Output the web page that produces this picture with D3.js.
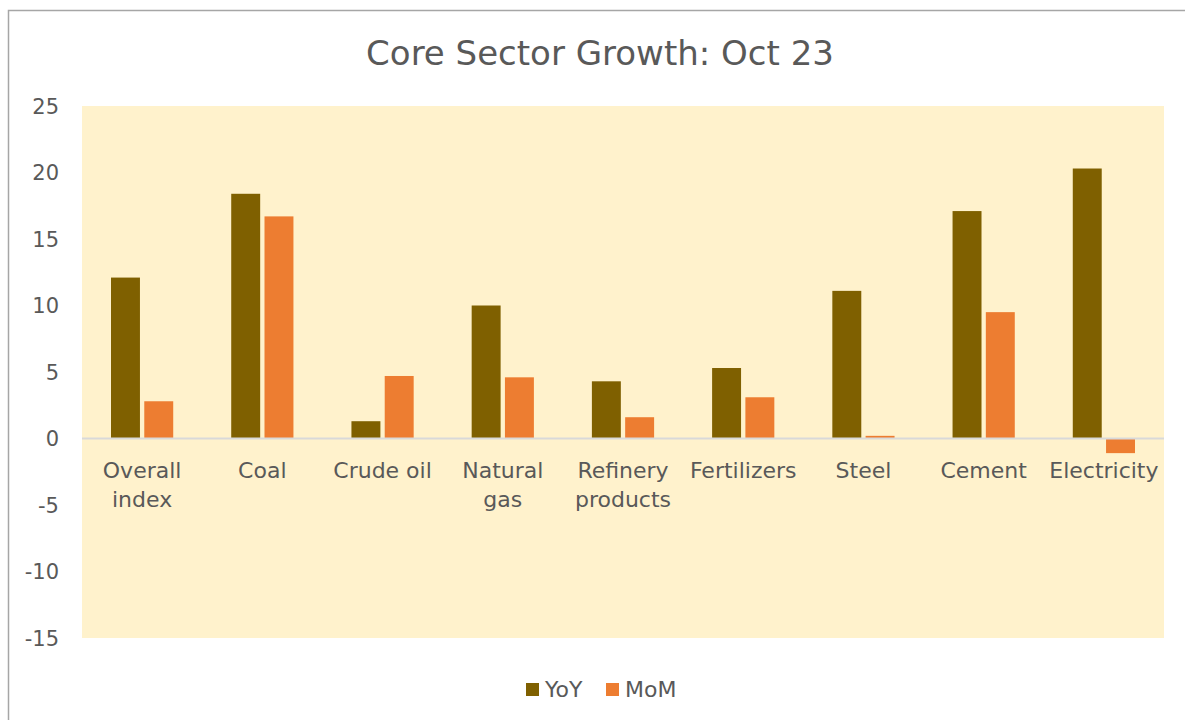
<!DOCTYPE html>
<html>
<head>
<meta charset="utf-8">
<script src="https://cdn.jsdelivr.net/npm/d3@7"></script>
<style>
  body { margin: 0; background: #fff; }
  svg text { font-family: "Century Gothic", "DejaVu Sans", sans-serif; fill: #595959; }
</style>
</head>
<body>
<div id="chart"></div>
<script>
// data
var categories = ["Overall index", "Coal", "Crude oil", "Natural gas", "Refinery products",
                  "Fertilizers", "Steel", "Cement", "Electricity"];
var yoy = [12.1, 18.4, 1.3, 10.0, 4.3, 5.3, 11.1, 17.1, 20.3];
var mom = [2.8, 16.7, 4.7, 4.6, 1.6, 3.1, 0.2, 9.5, -1.1];
var yTicks = [25, 20, 15, 10, 5, 0, -5, -10, -15];
var seriesNames = ["YoY", "MoM"];
var seriesColors = ["#7f6000", "#ed7d31"];

function barChart() {
    var w = 1185;
    var h = 720;
    var left = 82, right = 1164, top = 106, bottom = 638;

    var svg = d3.select("#chart")
                .append("svg")
                .attr("width", w)
                .attr("height", h);

    // outer chart border (runs past right/bottom edge)
    svg.append("rect")
        .attr("x", 8.5).attr("y", 10.5)
        .attr("width", 1200).attr("height", 720)
        .attr("fill", "#fff")
        .attr("stroke", "#a6a6a6")
        .attr("stroke-width", 1.5);

    // plot background
    svg.append("rect")
        .attr("x", left).attr("y", top)
        .attr("width", right - left).attr("height", bottom - top)
        .attr("fill", "#fff2cc");

    var xScale = d3.scaleBand()
                    .domain(categories)
                    .range([left, right]);

    var inner = d3.scaleBand()
                    .domain(seriesNames)
                    .range([29, xScale.bandwidth() - 29])
                    .paddingInner(0.13);

    var yScale = d3.scaleLinear()
                    .domain([-15, 25])
                    .range([bottom, top]);

    var yAxis = d3.axisLeft(yScale)
                    .tickValues(yTicks)
                    .tickFormat(function(d) { return String(d); }) // plain hyphen minus
                    .tickSize(0)
                    .tickPadding(0);

    var gy = svg.append("g")
        .attr("transform", "translate(" + 59 + ",0)")
        .call(yAxis);
    gy.select(".domain").remove();
    gy.selectAll("text").style("font-size", "21px").attr("dy", "0.35em");

    var series = [yoy, mom];
    series.forEach(function(vals, s) {
        svg.selectAll(".bar" + s)
            .data(vals)
            .enter()
            .append("rect")
            .attr("x", function(d, i) { return xScale(categories[i]) + inner(seriesNames[s]); })
            .attr("y", function(d) { return yScale(Math.max(0, d)); })
            .attr("width", inner.bandwidth())
            .attr("height", function(d) { return Math.abs(yScale(d) - yScale(0)); })
            .style("fill", seriesColors[s]);
    });

    // zero line
    svg.append("line")
        .attr("x1", left).attr("x2", right)
        .attr("y1", yScale(0)).attr("y2", yScale(0))
        .attr("stroke", "#d9d9d9")
        .attr("stroke-width", 2);

    // category labels (wrapped like the original)
    var labelLines = {
        "Overall index": ["Overall", "index"],
        "Natural gas": ["Natural", "gas"],
        "Refinery products": ["Refinery", "products"]
    };
    categories.forEach(function(c) {
        var lines = labelLines[c] || [c];
        var t = svg.append("text")
            .attr("x", xScale(c) + xScale.bandwidth() / 2)
            .attr("y", 478)
            .attr("text-anchor", "middle")
            .style("font-size", "22px");
        lines.forEach(function(l, k) {
            t.append("tspan")
                .attr("x", xScale(c) + xScale.bandwidth() / 2)
                .attr("dy", k === 0 ? 0 : 29)
                .text(l);
        });
    });

    // title
    svg.append("text")
        .attr("x", 600).attr("y", 65)
        .attr("text-anchor", "middle")
        .style("font-size", "34px")
        .text("Core Sector Growth: Oct 23");

    // legend
    var legendX = [526, 606];
    seriesNames.forEach(function(n, s) {
        svg.append("rect")
            .attr("x", legendX[s]).attr("y", 683)
            .attr("width", 13).attr("height", 13)
            .style("fill", seriesColors[s]);
        svg.append("text")
            .attr("x", legendX[s] + 19).attr("y", 697)
            .style("font-size", "22px")
            .text(n);
    });
}

window.onload = barChart;
</script>
</body>
</html>
